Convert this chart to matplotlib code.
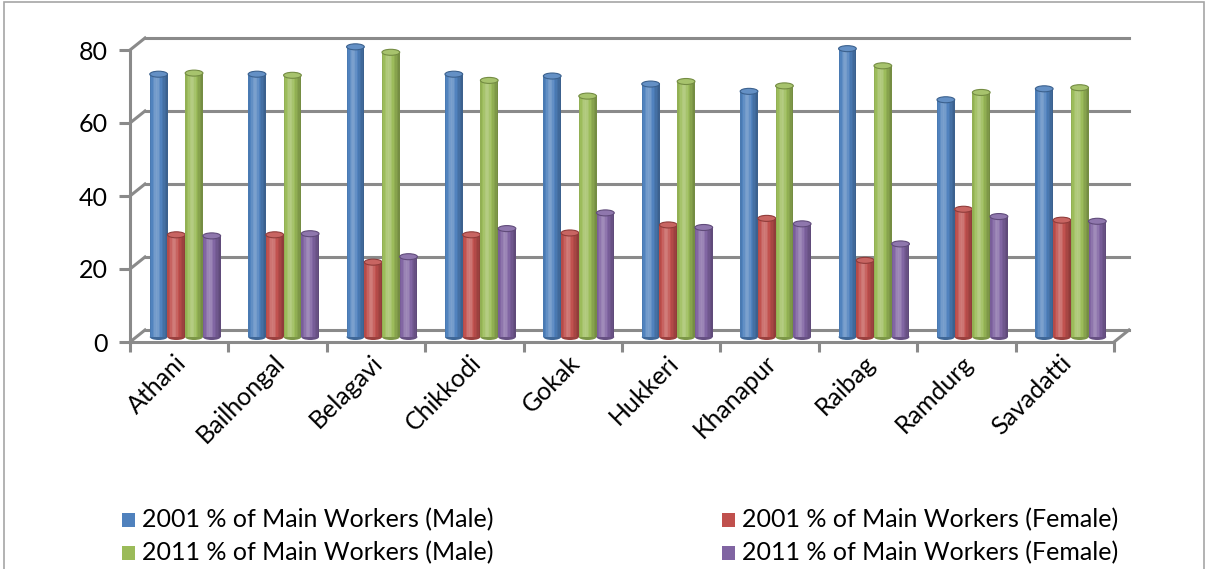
import numpy as np
import matplotlib
matplotlib.use('Agg')
import matplotlib.pyplot as plt
from matplotlib import transforms
from matplotlib.patches import Rectangle, Ellipse
from matplotlib.colors import to_rgb

districts = ['Athani', 'Bailhongal', 'Belagavi', 'Chikkodi', 'Gokak',
             'Hukkeri', 'Khanapur', 'Raibag', 'Ramdurg', 'Savadatti']
male_2001 = [72.0, 72.0, 79.5, 72.0, 71.5, 69.3, 67.3, 79.0, 65.0, 68.0]
female_2001 = [28.0, 28.0, 20.5, 28.0, 28.5, 30.7, 32.5, 21.0, 35.0, 32.0]
male_2011 = [72.3, 71.7, 78.0, 70.3, 66.0, 70.0, 68.8, 74.3, 67.0, 68.3]
female_2011 = [27.7, 28.3, 22.0, 29.7, 34.0, 30.0, 31.0, 25.5, 33.0, 31.7]

series_names = ['2001 % of Main Workers (Male)', '2001 % of Main Workers (Female)',
                '2011 % of Main Workers (Male)', '2011 % of Main Workers (Female)']
series = [male_2001, female_2001, male_2011, female_2011]
colors = ['#4F81BD', '#C0504D', '#9BBB59', '#8064A2']
y_ticks = [0, 20, 40, 60, 80]

FONT = 'Lato'
FS = 18
GRID = '#8a8a8a'

W, H = 1208, 569
fig = plt.figure(figsize=(W / 100, H / 100), dpi=100)
# front plane of the pseudo 3d box
ax = fig.add_axes([130 / W, 1 - 342 / H, 984 / W, 292 / H])
ax.set_xlim(-0.5, len(districts) - 0.5)
ax.set_ylim(0, 80)
for s in ax.spines.values():
    s.set_visible(False)

# chart area border
fig.patches.append(Rectangle((4 / W, -0.01), 1200 / W, 1 - 2 / H + 0.01,
                             transform=fig.transFigure, fill=False,
                             edgecolor='#a6a6a6', lw=1.2))

dx, dy = 15, 12
back = transforms.offset_copy(ax.transData, fig, x=dx, y=dy, units='dots')
mid = transforms.offset_copy(ax.transData, fig, x=6, y=5, units='dots')

x0, x1 = -0.5, len(districts) - 0.5
# back wall gridlines
for v in y_ticks:
    ax.plot([x0, x1], [v, v], color=GRID, lw=2.2, transform=back, clip_on=False, zorder=1)
# left wall / floor diagonals, drawn in pixel space
corners = [(x0, v) for v in y_ticks] + [(x1, 0)]
for cx, cy in corners:
    px, py = ax.transData.transform((cx, cy))
    fig.add_artist(plt.Line2D([px / W, (px + dx) / W], [py / H, (py + dy) / H],
                              color=GRID, lw=2.2, transform=fig.transFigure))
ax.plot([x0, x0], [0, 80], color=GRID, lw=2.2, clip_on=False, zorder=1)
ax.plot([x0, x1], [0, 0], color=GRID, lw=2.2, clip_on=False, zorder=1)

# cylinders
bw = 0.18
offsets = [-1.5 * bw, -0.5 * bw, 0.5 * bw, 1.5 * bw]
nstrip = 12
cap_h = 6 / (292 / 80)


def shade(c, k):
    c = np.array(to_rgb(c))
    if k > 0:
        return tuple(c + (1 - c) * k)
    return tuple(c * (1 + k))


for i in range(len(districts)):
    for j, vals in enumerate(series):
        v = vals[i]
        left = i + offsets[j] - bw / 2
        ax.add_patch(Ellipse((left + bw / 2, 0), bw, cap_h, facecolor=shade(colors[j], -0.2),
                             edgecolor='none', transform=mid, zorder=3 + j, clip_on=False))
        for k in range(nstrip):
            t = (k + 0.5) / nstrip
            f = 0.28 * np.exp(-((t - 0.38) / 0.22) ** 2) - 0.28 * t ** 3 - 0.1 * (1 - t) ** 4
            ax.add_patch(Rectangle((left + k * bw / nstrip, 0), bw / nstrip * 1.05, v,
                                   facecolor=shade(colors[j], f), edgecolor='none',
                                   transform=mid, zorder=3 + j, clip_on=False))
        ax.add_patch(Ellipse((left + bw / 2, v), bw, cap_h, facecolor=shade(colors[j], 0.12),
                             edgecolor=shade(colors[j], -0.25), lw=0.8,
                             transform=mid, zorder=3 + j, clip_on=False))

# ticks
ax.set_yticks(y_ticks)
ax.set_yticklabels([str(v) for v in y_ticks], fontsize=FS, family=FONT)
ax.set_xticks(np.arange(-0.5, len(districts)))
ax.set_xticklabels([])
ax.tick_params(axis='y', length=8, width=2.2, color=GRID, pad=8)
ax.tick_params(axis='x', length=7, width=2.2, color=GRID, direction='out')

lab_tr = transforms.offset_copy(ax.transData, fig, x=3, y=-17, units='dots')
for i, name in enumerate(districts):
    ax.text(i, 0, name, rotation=45, ha='right', va='center', rotation_mode='anchor',
            fontsize=FS, family=FONT, transform=lab_tr)

# legend
leg_x = [122, 722]
leg_y = [520, 553]
for j, name in enumerate(series_names):
    lx = leg_x[j % 2]
    ly = leg_y[j // 2]
    fig.patches.append(Rectangle((lx / W, 1 - (ly + 7) / H), 13 / W, 14 / H,
                                 transform=fig.transFigure, facecolor=colors[j], edgecolor='none'))
    fig.text((lx + 20) / W, 1 - ly / H, name, fontsize=FS, family=FONT, va='center')

fig.savefig('out.png', dpi=100)
